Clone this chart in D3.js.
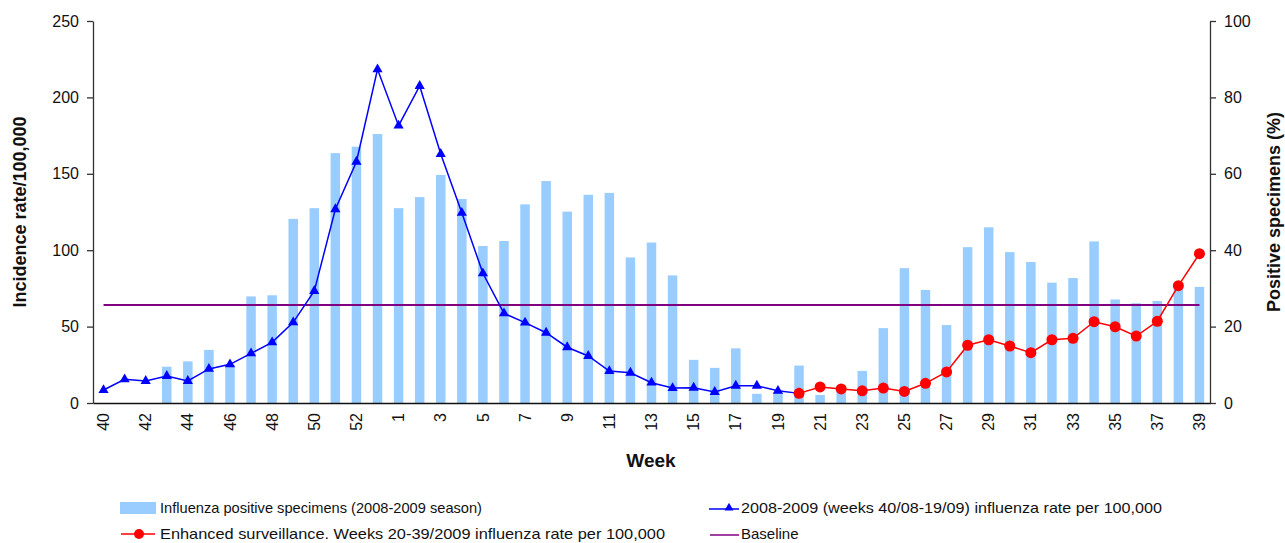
<!DOCTYPE html>
<html>
<head>
<meta charset="utf-8">
<script src="https://cdn.jsdelivr.net/npm/d3@7"></script>
<style>
  html, body { margin: 0; padding: 0; background: #fff; }
  svg { display: block; font-family: "Liberation Sans", Arial, Helvetica, sans-serif; }
</style>
</head>
<body>
<svg id="chart" width="1285" height="543"></svg>
<script>
// ---- Data ----
const weeks = [40,41,42,43,44,45,46,47,48,49,50,51,52,53,
  1,2,3,4,5,6,7,8,9,10,11,12,13,14,15,16,17,18,19,20,
  21,22,23,24,25,26,27,28,29,30,31,32,33,34,35,36,37,38,39];

// Influenza positive specimens (%) - right axis
const positivePct = [0,0,0,9.5,10.9,13.9,10,27.9,28.2,48.2,51,65.4,67.1,70.4,
  51,53.9,59.7,53.4,41.1,42.4,52,58.1,50.1,54.5,55,38.1,42,33.4,11.3,9.2,14.3,2.4,2.8,9.8,
  2.1,3.4,8.4,19.6,35.3,29.6,20.4,40.8,46,39.5,36.9,31.5,32.7,42.3,27.1,26.1,26.7,30,30.4];

// 2008-2009 (weeks 40/08-19/09) influenza rate per 100,000 (left axis)
const rateWeeks = [40,41,42,43,44,45,46,47,48,49,50,51,52,53,1,2,3,4,5,6,7,8,9,10,11,12,13,14,15,16,17,18,19,20];
const rate0809 = [8.5,15.5,14.4,17.7,14.4,22.3,25.3,32.5,39.7,52.8,73.3,126.8,157.9,218.4,
  181.5,207.5,163,124.5,84.9,58.7,52.6,46,36.5,30.8,20.9,19.8,13.3,9.8,10,7.2,11.3,11.3,8,6.3];

// Enhanced surveillance weeks 20-39/2009 (left axis)
const enhWeeks = [20,21,22,23,24,25,26,27,28,29,30,31,32,33,34,35,36,37,38,39];
const enhRate = [6.3,10.5,9.2,8,9.8,7.6,12.9,20.3,37.8,41.4,37.3,32.9,41.4,42.3,53.2,49.9,43.8,53.5,76.8,97.7];

const baselineValue = 64.1;

const leftTicks = [0,50,100,150,200,250];
const rightTicks = [0,20,40,60,80,100];
const xTickLabels = [40,42,44,46,48,50,52,1,3,5,7,9,11,13,15,17,19,21,23,25,27,29,31,33,35,37,39];

// ---- Layout ----
const svg = d3.select("#chart");
const m = { left: 93, right: 1210, top: 21, bottom: 403 };
const keys = weeks.map((w, i) => i);
const keyOf = w => (w >= 40 ? weeks.indexOf(w) : weeks.indexOf(w, 14));

const x = d3.scaleBand().domain(keys).range([m.left, m.right]).paddingInner(0).paddingOuter(0);
const xc = i => x(i) + x.bandwidth() / 2;
const yL = d3.scaleLinear().domain([0, 250]).range([m.bottom, m.top]);
const yR = d3.scaleLinear().domain([0, 100]).range([m.bottom, m.top]);

const barW = x.bandwidth() * 0.45;

// Bars
svg.append("g").selectAll("rect").data(positivePct).join("rect")
  .attr("x", (d, i) => xc(i) - barW / 2)
  .attr("y", d => yR(d))
  .attr("width", barW)
  .attr("height", d => yR(0) - yR(d))
  .attr("fill", "#99ccff");

// Baseline
svg.append("line")
  .attr("x1", xc(0)).attr("x2", xc(weeks.length - 1))
  .attr("y1", yL(baselineValue)).attr("y2", yL(baselineValue))
  .attr("stroke", "#800080").attr("stroke-width", 2);

// Blue line
const bluePts = rateWeeks.map((w, i) => [xc(keyOf(w)), yL(rate0809[i])]);
svg.append("path").attr("d", d3.line()(bluePts))
  .attr("fill", "none").attr("stroke", "#0000ff").attr("stroke-width", 1.5);
const tri = d3.symbol().type(d3.symbolTriangle).size(45);
svg.append("g").selectAll("path").data(bluePts).join("path")
  .attr("d", tri)
  .attr("transform", d => `translate(${d[0]},${d[1]})`)
  .attr("fill", "#0000ff");

// Red line
const redPts = enhWeeks.map((w, i) => [xc(keyOf(w)), yL(enhRate[i])]);
svg.append("path").attr("d", d3.line()(redPts))
  .attr("fill", "none").attr("stroke", "#ff0000").attr("stroke-width", 1.5);
svg.append("g").selectAll("circle").data(redPts).join("circle")
  .attr("cx", d => d[0]).attr("cy", d => d[1]).attr("r", 5.5)
  .attr("fill", "#ff0000");

// Axes
const leftAxis = d3.axisLeft(yL).tickValues(leftTicks).tickSize(6).tickSizeOuter(0).tickPadding(8);
const gL = svg.append("g").attr("transform", `translate(${m.left},0)`).call(leftAxis);
const rightAxis = d3.axisRight(yR).tickValues(rightTicks).tickSize(6).tickSizeOuter(0).tickPadding(8);
const gR = svg.append("g").attr("transform", `translate(${m.right},0)`).call(rightAxis);
[gL, gR].forEach(g => {
  g.select(".domain").attr("stroke", "#333").attr("stroke-width", 1.3);
  g.selectAll(".tick line").attr("stroke", "#333").attr("stroke-width", 1.3);
  g.selectAll(".tick text").attr("font-size", 16).attr("fill", "#111")
    .attr("font-family", "'Liberation Sans', Arial, sans-serif");
});
const bottomAxis = d3.axisBottom(x)
  .tickValues(xTickLabels.map(w => keyOf(w)))
  .tickFormat(i => weeks[i])
  .tickSize(0).tickSizeOuter(0);
const gB = svg.append("g").attr("transform", `translate(0,${m.bottom})`).call(bottomAxis);
gB.select(".domain").attr("stroke", "#111").attr("stroke-width", 1.5);
gB.selectAll(".tick text")
  .attr("font-size", 16).attr("fill", "#111")
  .attr("font-family", "'Liberation Sans', Arial, sans-serif")
  .attr("transform", "rotate(-90)")
  .attr("text-anchor", "end")
  .attr("dy", "0.35em")
  .attr("x", -10).attr("y", 0);

// Axis titles
svg.append("text")
  .attr("transform", `translate(26,${(m.top + m.bottom) / 2}) rotate(-90)`)
  .attr("text-anchor", "middle")
  .attr("font-size", 18).attr("font-weight", "bold").attr("fill", "#111")
  .text("Incidence rate/100,000");
svg.append("text")
  .attr("transform", `translate(1280,${(m.top + m.bottom) / 2}) rotate(-90)`)
  .attr("text-anchor", "middle")
  .attr("font-size", 18).attr("font-weight", "bold").attr("fill", "#111")
  .text("Positive specimens (%)");
svg.append("text")
  .attr("x", 651).attr("y", 467)
  .attr("text-anchor", "middle")
  .attr("font-size", 19).attr("font-weight", "bold").attr("fill", "#111")
  .text("Week");

// Legend
const leg = svg.append("g").attr("font-size", 15).attr("fill", "#111");
// item 1: bar
leg.append("rect").attr("x", 120).attr("y", 502).attr("width", 36).attr("height", 12).attr("fill", "#99ccff");
leg.append("text").attr("x", 160).attr("y", 508).attr("dy", "0.35em")
  .attr("textLength", 322).attr("lengthAdjust", "spacingAndGlyphs")
  .text("Influenza positive specimens (2008-2009 season)");
// item 2: red
leg.append("line").attr("x1", 121).attr("x2", 155).attr("y1", 534).attr("y2", 534)
  .attr("stroke", "#ff0000").attr("stroke-width", 1.5);
leg.append("circle").attr("cx", 139).attr("cy", 534).attr("r", 5).attr("fill", "#ff0000");
leg.append("text").attr("x", 160).attr("y", 533.5).attr("dy", "0.35em")
  .attr("textLength", 505).attr("lengthAdjust", "spacingAndGlyphs")
  .text("Enhanced surveillance. Weeks 20-39/2009 influenza rate per 100,000");
// item 3: blue
leg.append("line").attr("x1", 709).attr("x2", 739).attr("y1", 509).attr("y2", 509)
  .attr("stroke", "#0000ff").attr("stroke-width", 1.5);
leg.append("path").attr("d", d3.symbol().type(d3.symbolTriangle).size(35))
  .attr("transform", "translate(729,508)").attr("fill", "#0000ff");
leg.append("text").attr("x", 741).attr("y", 508).attr("dy", "0.35em")
  .attr("textLength", 421).attr("lengthAdjust", "spacingAndGlyphs")
  .text("2008-2009 (weeks 40/08-19/09) influenza rate per 100,000");
// item 4: baseline
leg.append("line").attr("x1", 710).attr("x2", 739).attr("y1", 535).attr("y2", 535)
  .attr("stroke", "#800080").attr("stroke-width", 1.5);
leg.append("text").attr("x", 741).attr("y", 533.5).attr("dy", "0.35em")
  .text("Baseline");
</script>
</body>
</html>
